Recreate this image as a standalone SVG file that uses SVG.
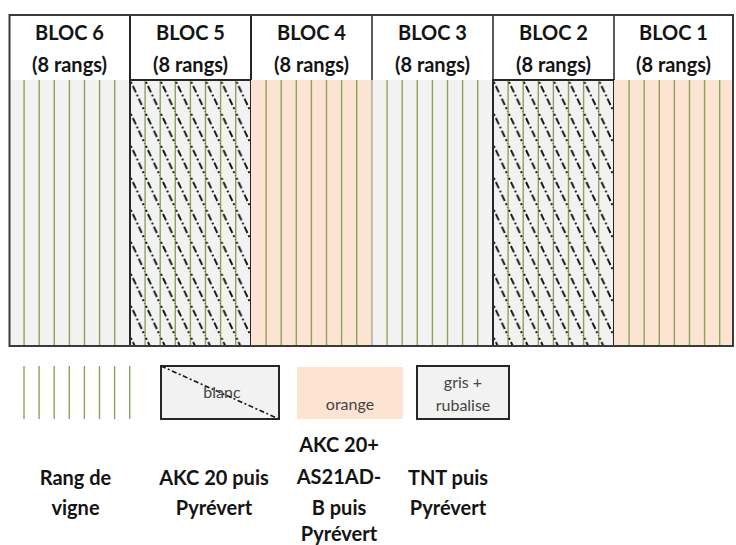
<svg xmlns="http://www.w3.org/2000/svg" width="736" height="545" viewBox="0 0 736 545">
<defs>
<style>
.hd{font-family:Lato,"Liberation Sans",sans-serif;font-weight:bold;font-size:20px;fill:#141414;text-anchor:middle}
.lb{font-family:Lato,"Liberation Sans",sans-serif;font-weight:bold;font-size:20px;fill:#141414;text-anchor:middle}
.sm{font-family:Lato,"Liberation Sans",sans-serif;font-size:16px;fill:#454545;text-anchor:middle}
.vine{stroke:#8aa35c;stroke-width:1.4}
.gris{fill:#f2f2f2}
.peach{fill:#fde4d2}
.box{fill:none;stroke:#262626;stroke-width:2}
.hatchline{stroke:#141414;stroke-width:1.9;stroke-dasharray:7 2.5 2 2.5;fill:none}
</style>
<pattern id="hatch5" patternUnits="userSpaceOnUse" x="130" y="80" width="15.1" height="32">
<path class="hatchline" d="M-15.1,-32 L30.2,64"/>
</pattern>
<pattern id="hatch2" patternUnits="userSpaceOnUse" x="493" y="80" width="15.1" height="32">
<path class="hatchline" d="M-15.1,-32 L30.2,64"/>
</pattern>
</defs>
<rect x="0" y="0" width="736" height="545" fill="#ffffff"/>

<g id="bloc6">
<rect class="gris" x="9" y="80" width="121" height="266"/>
<g class="vine"><path d="M24.1,80V346M39.2,80V346M54.3,80V346M69.4,80V346M84.5,80V346M99.6,80V346M114.7,80V346"/></g>
<text class="hd" x="69.5" y="40">BLOC 6</text>
<text class="hd" x="69.5" y="72">(8 rangs)</text>
</g>

<g id="bloc5">
<rect class="gris" x="130" y="80" width="121" height="266"/>
<g class="vine"><path d="M145.1,80V346M160.2,80V346M175.3,80V346M190.4,80V346M205.5,80V346M220.6,80V346M235.7,80V346"/></g>
<rect x="130" y="80" width="121" height="266" fill="url(#hatch5)"/>
<rect class="box" x="130" y="80" width="121" height="266"/>
<rect class="box" x="130" y="15" width="121" height="65"/>
<text class="hd" x="190.5" y="40">BLOC 5</text>
<text class="hd" x="190.5" y="72">(8 rangs)</text>
</g>

<g id="bloc4">
<rect class="peach" x="251" y="80" width="121" height="266"/>
<g class="vine"><path d="M266.1,80V346M281.2,80V346M296.3,80V346M311.4,80V346M326.5,80V346M341.6,80V346M356.7,80V346"/></g>
<text class="hd" x="311.5" y="40">BLOC 4</text>
<text class="hd" x="311.5" y="72">(8 rangs)</text>
</g>

<g id="bloc3">
<rect class="gris" x="372" y="80" width="121" height="266"/>
<g class="vine"><path d="M387.1,80V346M402.2,80V346M417.3,80V346M432.4,80V346M447.5,80V346M462.6,80V346M477.7,80V346"/></g>
<text class="hd" x="432.5" y="40">BLOC 3</text>
<text class="hd" x="432.5" y="72">(8 rangs)</text>
</g>

<g id="bloc2">
<rect class="gris" x="493" y="80" width="121" height="266"/>
<g class="vine"><path d="M508.1,80V346M523.2,80V346M538.3,80V346M553.4,80V346M568.5,80V346M583.6,80V346M598.7,80V346"/></g>
<rect x="493" y="80" width="121" height="266" fill="url(#hatch2)"/>
<rect class="box" x="493" y="80" width="121" height="266"/>
<text class="hd" x="553.5" y="40">BLOC 2</text>
<text class="hd" x="553.5" y="72">(8 rangs)</text>
</g>

<g id="bloc1">
<rect class="peach" x="614" y="80" width="119" height="266"/>
<g class="vine"><path d="M629.1,80V346M644.2,80V346M659.3,80V346M674.4,80V346M689.5,80V346M704.6,80V346M719.7,80V346"/></g>
<text class="hd" x="673.5" y="40">BLOC 1</text>
<text class="hd" x="673.5" y="72">(8 rangs)</text>
</g>

<g id="grid" fill="none">
<path d="M372,15V80M614,15V80M251,80V15M493,15V80" stroke="#262626" stroke-width="1.5"/>
<path d="M372,80V346" stroke="#8c8c8c" stroke-width="1"/>
<rect x="9.5" y="15" width="723.5" height="331" stroke="#3a3a3a" stroke-width="2"/>
</g>

<g id="legend-rang">
<g class="vine"><path d="M24,366V419M39.1,366V419M54.2,366V419M69.3,366V419M84.4,366V419M99.5,366V419M114.6,366V419M129.7,366V419"/></g>
<text class="lb" x="75.5" y="485">Rang de</text>
<text class="lb" x="75.5" y="515">vigne</text>
</g>

<g id="legend-akc20">
<rect class="gris" x="161" y="366" width="118" height="53"/>
<path d="M161,366L279,419" stroke="#141414" stroke-width="1.6" stroke-dasharray="5 2.5 2 2.5"/>
<rect class="box" x="161" y="366" width="118" height="53"/>
<text class="sm" x="222" y="398">blanc</text>
<text class="lb" x="214" y="485">AKC 20 puis</text>
<text class="lb" x="214" y="515">Pyrévert</text>
</g>

<g id="legend-akc20-as21">
<rect class="peach" x="297" y="367" width="106" height="52"/>
<text class="sm" x="350" y="410">orange</text>
<text class="lb" x="339" y="452">AKC 20+</text>
<text class="lb" x="339" y="484">AS21AD-</text>
<text class="lb" x="339" y="515">B puis</text>
<text class="lb" x="339" y="541">Pyrévert</text>
</g>

<g id="legend-tnt">
<rect class="gris" x="417" y="366" width="92" height="53"/>
<rect class="box" x="417" y="366" width="92" height="53"/>
<text class="sm" x="463" y="388">gris +</text>
<text class="sm" x="463" y="411">rubalise</text>
<text class="lb" x="448" y="485">TNT puis</text>
<text class="lb" x="448" y="515">Pyrévert</text>
</g>
</svg>
